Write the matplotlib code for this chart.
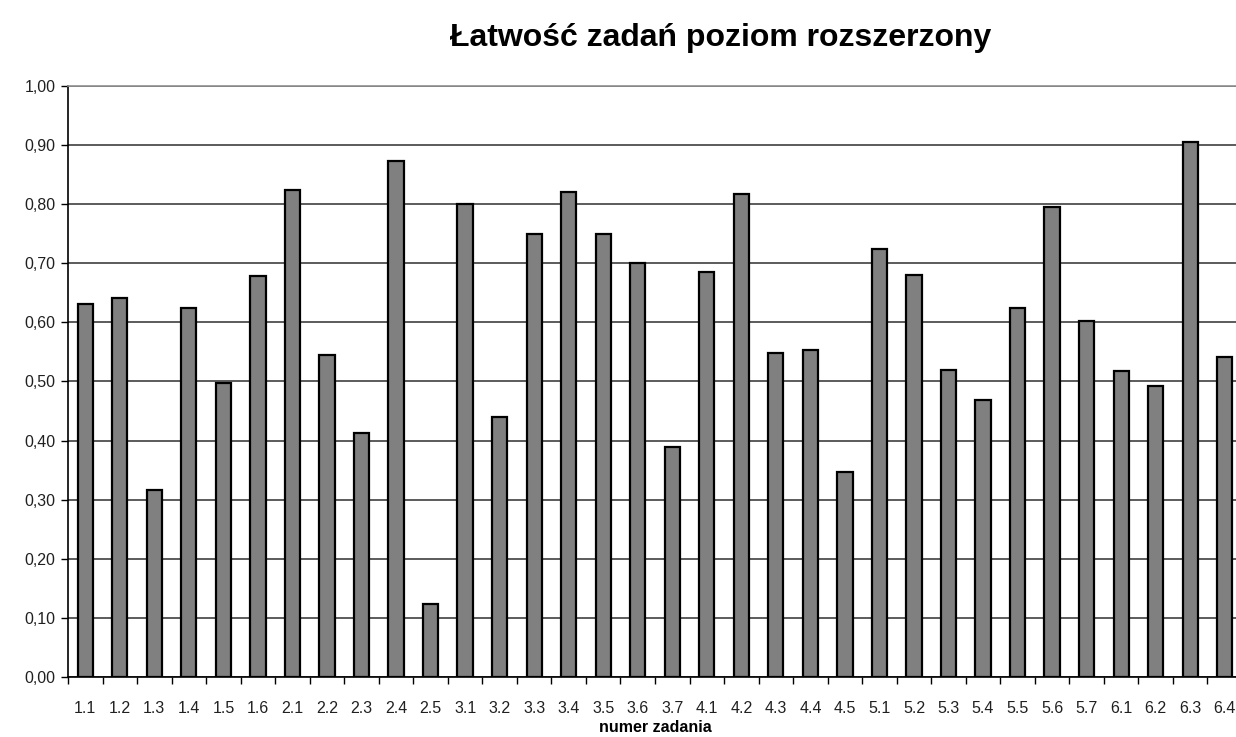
import numpy as np
import matplotlib
matplotlib.use('Agg')
import matplotlib.pyplot as plt
from matplotlib.ticker import FuncFormatter, MultipleLocator

# numery zadań i łatwość
zadania = ['1.1', '1.2', '1.3', '1.4', '1.5', '1.6', '2.1', '2.2', '2.3', '2.4', '2.5',
           '3.1', '3.2', '3.3', '3.4', '3.5', '3.6', '3.7', '4.1', '4.2', '4.3', '4.4',
           '4.5', '5.1', '5.2', '5.3', '5.4', '5.5', '5.6', '5.7', '6.1', '6.2', '6.3', '6.4']
latwosc = [0.631, 0.641, 0.317, 0.624, 0.497, 0.678, 0.824, 0.545, 0.413, 0.873, 0.124,
           0.800, 0.440, 0.750, 0.820, 0.750, 0.700, 0.390, 0.685, 0.818, 0.548, 0.553,
           0.347, 0.724, 0.680, 0.520, 0.468, 0.624, 0.795, 0.603, 0.518, 0.492, 0.905, 0.542]

plt.rcParams['font.family'] = ['Liberation Sans', 'DejaVu Sans']

fig = plt.figure(figsize=(12.36, 7.37), dpi=100)
ax = fig.add_axes([68 / 1236, 60 / 737, (1242 - 68) / 1236, 591 / 737])

x = np.arange(len(zadania))
ax.bar(x, latwosc, width=0.44, color='#808080', edgecolor='black', linewidth=1.6, zorder=3)

ax.set_xlim(-0.5, len(zadania) - 0.5)
ax.set_ylim(0, 1.0)
ax.yaxis.set_major_locator(MultipleLocator(0.1))
ax.yaxis.set_major_formatter(FuncFormatter(lambda v, p: f'{v:.2f}'.replace('.', ',')))
ax.grid(axis='y', color='#404040', linewidth=1.2, zorder=0)

# podpisy pod słupkami, kreski między kategoriami
ax.set_xticks(x)
ax.set_xticklabels(zadania)
ax.set_xticks(np.arange(len(zadania) + 1) - 0.5, minor=True)
ax.tick_params(axis='x', which='major', length=0, pad=17, labelsize=11.5, colors='#202020')
ax.tick_params(axis='x', which='minor', length=5, width=1, direction='out')
ax.tick_params(axis='y', length=5, width=1, labelsize=11.5, pad=4, labelcolor='#202020')

ax.spines['right'].set_visible(False)
ax.spines['top'].set_color('#909090')
ax.spines['top'].set_linewidth(1.2)
ax.spines['left'].set_linewidth(1.2)
ax.spines['bottom'].set_linewidth(1.2)

fig.text(721 / 1236, 1 - 38 / 737, 'Łatwość zadań poziom rozszerzony',
         ha='center', va='center', fontsize=23, fontweight='bold')
fig.text(655 / 1236, 2 / 737, 'numer zadania', ha='center', va='bottom',
         fontsize=11.5, fontweight='bold')

fig.savefig('out.png', dpi=100)
